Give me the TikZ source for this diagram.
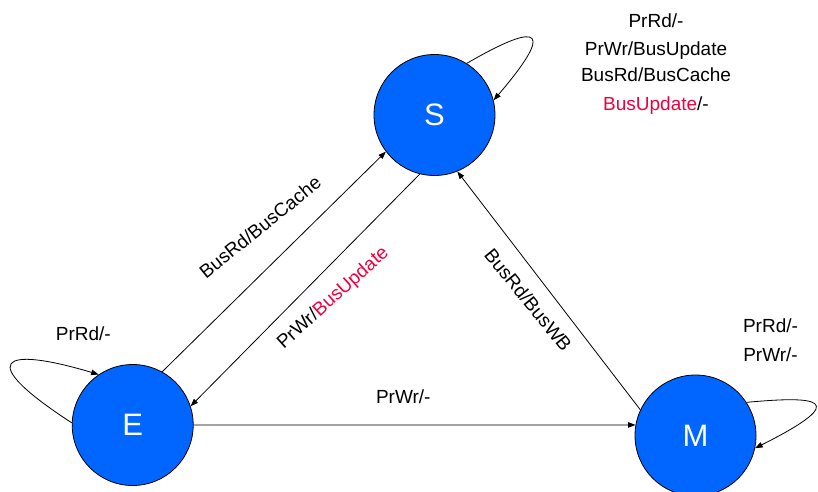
\documentclass[tikz,border=0pt]{standalone}
\usepackage{fontspec}
\setmainfont{Liberation Sans}
\usetikzlibrary{arrows.meta}
\definecolor{stateblue}{RGB}{0,102,255}
\definecolor{busred}{RGB}{240,0,60}
\begin{document}
\begin{tikzpicture}[x=1pt,y=-1pt,
  state/.style={circle,draw=black,line width=0.8pt,fill=stateblue,
    minimum size=121pt,inner sep=0pt,text=white,
    font=\fontsize{31}{31}\selectfont},
  trans/.style={line width=0.8pt,-{Triangle[length=7.5pt,width=5.5pt]}},
  lbl/.style={font=\fontsize{19}{23}\selectfont,inner sep=0pt}]
\useasboundingbox (0,0) rectangle (818,491);

% states
\node[state] (S) at (434.5,115) {S};
\node[state] (E) at (132.7,425) {E};
\node[state] (M) at (695.5,435.5) {M};

% transitions between states
\draw[trans] (E.61) -- (S.217);
\draw[trans] (S.256) -- (E.18);
\draw[trans] (M.155) -- (S.292);
\draw[trans] (E.0) -- (M.170);

% self loops
\draw[trans] (S.58) .. controls (545,18) and (552,32) .. (S.14);
\draw[trans] (E.178) .. controls (-25,360) and (0,345) .. (E.124);
\draw[trans] (M.33) .. controls (815,396) and (855,398) .. (M.-12);

% loop labels
\node[lbl,anchor=base] (sl1) at (656,27.3) {PrRd/-};
\node[lbl,anchor=base] (sl2) at (656,55) {PrWr/BusUpdate};
\node[lbl,anchor=base] (sl3) at (656,81.7) {BusRd/BusCache};
\node[lbl,anchor=base] (sl4) at (656,110) {\textcolor{busred}{BusUpdate}/-};
\node[lbl,anchor=base] (el) at (83.3,340) {PrRd/-};
\node[lbl,anchor=base] (ml1) at (770.5,332.7) {PrRd/-};
\node[lbl,anchor=base] (ml2) at (770.5,361) {PrWr/-};

% edge labels
\node[lbl,anchor=base] (em) at (403.3,403.3) {PrWr/-};
\node[lbl,rotate=39] (es) at (260,227) {BusRd/BusCache};
\node[lbl,rotate=42] (se) at (333.3,298.3) {PrWr/\textcolor{busred}{BusUpdate}};
\node[lbl,rotate=-51] (ms) at (528.3,299.7) {BusRd/BusWB};
\end{tikzpicture}
\end{document}
